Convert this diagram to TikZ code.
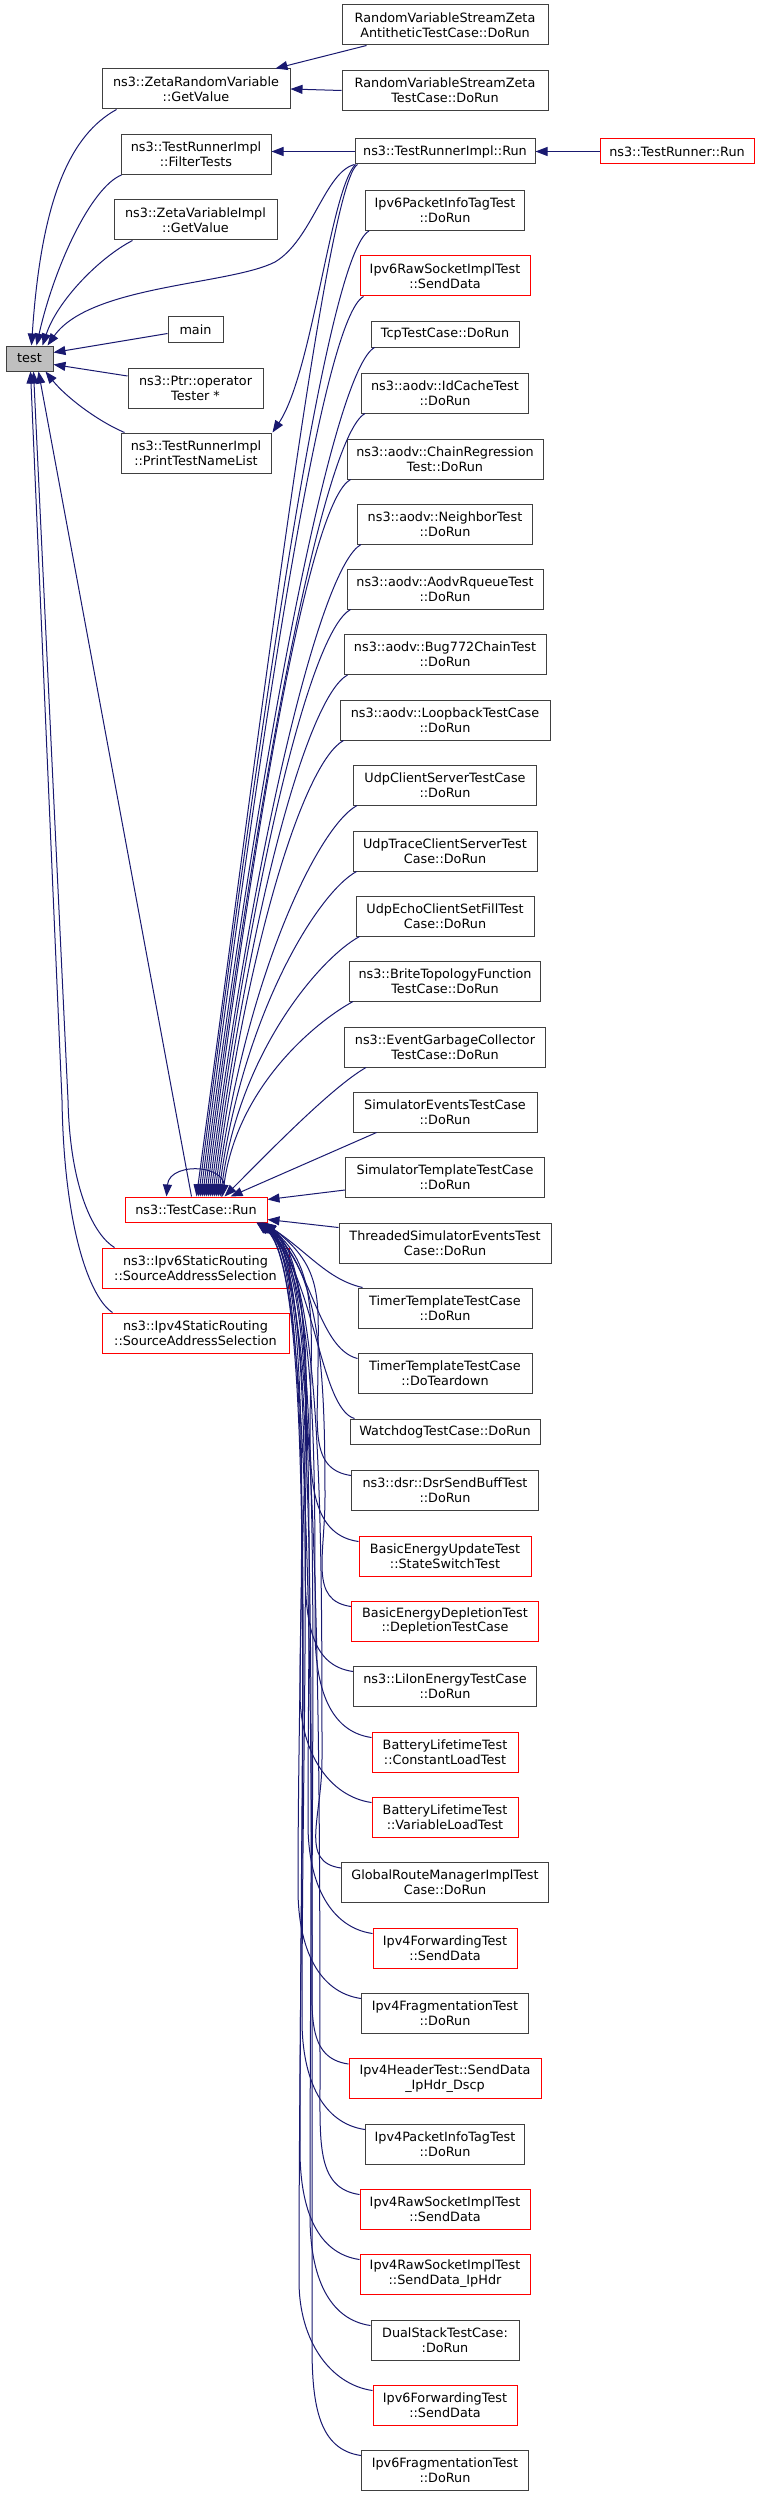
\documentclass[tikz,border=0pt]{standalone}
\usepackage{fontspec}
\newfontfamily\dvs{DejaVu Sans}
\usetikzlibrary{arrows.meta,calc}
\definecolor{navy}{HTML}{191970}
\definecolor{nodegray}{HTML}{404040}
\definecolor{testfill}{HTML}{BFBFBF}
\definecolor{nred}{HTML}{FF0000}
\begin{document}
\begin{tikzpicture}[x=1pt,y=-1pt,
  box/.style={draw=nodegray, line width=1pt, fill=white, rectangle, inner sep=0pt,
    align=center, font=\dvs\fontsize{12.8}{14.8}\selectfont, minimum height=40pt},
  redbox/.style={box, draw=nred},
  one/.style={minimum height=25pt},
  cl/.style={draw=navy, line width=1pt, -{Triangle[length=12pt,width=9pt]}}]
\fill[white] (0,0) rectangle (760,2496);
\useasboundingbox (0,0) rectangle (760,2496);

% left column
\node[box, one, fill=testfill, minimum width=47pt] (test) at (29.5,358.5) {test};
\node[box, minimum width=188pt] (zrv) at (196,89) {ns3::ZetaRandomVariable\\::GetValue};
\node[box, minimum width=150pt] (filt) at (196,154.5) {ns3::TestRunnerImpl\\::FilterTests};
\node[box, minimum width=163pt] (zvi) at (195.5,220) {ns3::ZetaVariableImpl\\::GetValue};
\node[box, one, minimum width=55pt] (main) at (195.5,329.5) {main};
\node[box, minimum width=135pt] (ptr) at (195.5,388) {ns3::Ptr::operator\\Tester *};
\node[box, minimum width=150pt] (ptnl) at (196,453) {ns3::TestRunnerImpl\\::PrintTestNameList};
\node[redbox, one, minimum width=142pt] (tcr) at (196,1209.5) {ns3::TestCase::Run};
\node[redbox, minimum width=187pt] (s6) at (195.5,1268) {ns3::Ipv6StaticRouting\\::SourceAddressSelection};
\node[redbox, minimum width=187pt] (s4) at (195.5,1333) {ns3::Ipv4StaticRouting\\::SourceAddressSelection};

% right column
\node[box, minimum width=206pt] (anti) at (445,25) {RandomVariableStreamZeta\\AntitheticTestCase::DoRun};
\node[box, minimum width=206pt] (rvsz) at (445,90.5) {RandomVariableStreamZeta\\TestCase::DoRun};
\node[box, one, minimum width=180pt] (tri) at (445,151.5) {ns3::TestRunnerImpl::Run};
\node[redbox, one, minimum width=154pt] (trun) at (677,151.5) {ns3::TestRunner::Run};
\node[box, minimum width=159pt] (r1) at (445,210.5) {Ipv6PacketInfoTagTest\\::DoRun};
\node[redbox, minimum width=170pt] (r2) at (445,276) {Ipv6RawSocketImplTest\\::SendData};
\node[box, one, minimum width=148pt] (r3) at (445,334.5) {TcpTestCase::DoRun};
\node[box, minimum width=167pt] (r4) at (445,393) {ns3::aodv::IdCacheTest\\::DoRun};
\node[box, minimum width=196pt] (r5) at (445,459) {ns3::aodv::ChainRegression\\Test::DoRun};
\node[box, minimum width=175pt] (r6) at (445,524) {ns3::aodv::NeighborTest\\::DoRun};
\node[box, minimum width=196pt] (r7) at (445,589) {ns3::aodv::AodvRqueueTest\\::DoRun};
\node[box, minimum width=202pt] (r8) at (445,654.5) {ns3::aodv::Bug772ChainTest\\::DoRun};
\node[box, minimum width=210pt] (r9) at (445,720) {ns3::aodv::LoopbackTestCase\\::DoRun};
\node[box, minimum width=183pt] (r10) at (445,785) {UdpClientServerTestCase\\::DoRun};
\node[box, minimum width=184pt] (r11) at (445,851) {UdpTraceClientServerTest\\Case::DoRun};
\node[box, minimum width=178pt] (r12) at (445,916) {UdpEchoClientSetFillTest\\Case::DoRun};
\node[box, minimum width=191pt] (r13) at (445,981) {ns3::BriteTopologyFunction\\TestCase::DoRun};
\node[box, minimum width=201pt] (r14) at (445,1047) {ns3::EventGarbageCollector\\TestCase::DoRun};
\node[box, minimum width=184pt] (r15) at (445,1112) {SimulatorEventsTestCase\\::DoRun};
\node[box, minimum width=199pt] (r16) at (445,1177) {SimulatorTemplateTestCase\\::DoRun};
\node[box, minimum width=212pt] (r17) at (445,1243) {ThreadedSimulatorEventsTest\\Case::DoRun};
\node[box, minimum width=174pt] (r18) at (445,1308) {TimerTemplateTestCase\\::DoRun};
\node[box, minimum width=174pt] (r19) at (445,1373) {TimerTemplateTestCase\\::DoTeardown};
\node[box, one, minimum width=190pt] (r20) at (445,1431.5) {WatchdogTestCase::DoRun};
\node[box, minimum width=187pt] (r21) at (445,1490) {ns3::dsr::DsrSendBuffTest\\::DoRun};
\node[redbox, minimum width=172pt] (r22) at (445,1556) {BasicEnergyUpdateTest\\::StateSwitchTest};
\node[redbox, minimum width=187pt] (r23) at (445,1621) {BasicEnergyDepletionTest\\::DepletionTestCase};
\node[box, minimum width=183pt] (r24) at (445,1686) {ns3::LiIonEnergyTestCase\\::DoRun};
\node[redbox, minimum width=146pt] (r25) at (445,1752) {BatteryLifetimeTest\\::ConstantLoadTest};
\node[redbox, minimum width=146pt] (r26) at (445,1817) {BatteryLifetimeTest\\::VariableLoadTest};
\node[box, minimum width=207pt] (r27) at (445,1882.5) {GlobalRouteManagerImplTest\\Case::DoRun};
\node[redbox, minimum width=144pt] (r28) at (445,1948) {Ipv4ForwardingTest\\::SendData};
\node[box, minimum width=167pt] (r29) at (445,2013) {Ipv4FragmentationTest\\::DoRun};
\node[redbox, minimum width=192pt] (r30) at (445,2078.5) {Ipv4HeaderTest::SendData\\\_IpHdr\_Dscp};
\node[box, minimum width=159pt] (r31) at (445,2144) {Ipv4PacketInfoTagTest\\::DoRun};
\node[redbox, minimum width=170pt] (r32) at (445,2209) {Ipv4RawSocketImplTest\\::SendData};
\node[redbox, minimum width=170pt] (r33) at (445,2274) {Ipv4RawSocketImplTest\\::SendData\_IpHdr};
\node[box, minimum width=148pt] (r34) at (445,2340) {DualStackTestCase:\\:DoRun};
\node[redbox, minimum width=144pt] (r35) at (445,2405) {Ipv6ForwardingTest\\::SendData};
\node[box, minimum width=167pt] (r36) at (445,2470) {Ipv6FragmentationTest\\::DoRun};

% edges among upper nodes
\draw[cl] ($(anti.south west)+(25,0)$) -- ($(zrv.north east)+(-15,0)$);
\draw[cl] (rvsz.west) -- (zrv.east);
\draw[cl] (trun.west) -- (tri.east);
\draw[cl] (tri.west) -- (filt.east |- tri.west);

% edges into test
\draw[cl] ($(zrv.south west)+(15,0)$) .. controls +(-45,25) and +(10,-150) .. ($(test.north west)+(26,0)$);
\draw[cl] ($(filt.south west)+(1,0)$) .. controls +(-30,12) and +(18,-80) .. ($(test.north west)+(31,0)$);
\draw[cl] ($(zvi.south west)+(19,0)$) .. controls +(-33,17) and +(15,-45) .. ($(test.north west)+(37,0)$);
\draw[cl] (tri.south west) .. controls (325,172) and (312,240) .. (275,262)
  .. controls (230,285) and (90,285) .. ($(test.north west)+(42,0)$);
\draw[cl] ($(main.west)+(0,4)$) -- ($(test.east)+(0,-6)$);
\draw[cl] ($(ptr.west)+(0,-12)$) -- ($(test.east)+(0,6)$);
\draw[cl] ($(ptnl.north west)+(4,0)$) .. controls +(-28,-12) and +(20,25) .. ($(test.south west)+(40,0)$);
\draw[cl] ($(tcr.north west)+(67,0)$) -- ($(test.south west)+(33,0)$);
\draw[cl] ($(s6.north west)+(13,0)$) .. controls +(-20,-12) and +(2,90) .. (68,1100) -- ($(test.south west)+(28,0)$);
\draw[cl] ($(s4.north west)+(11,0)$) .. controls +(-22,-14) and +(2,130) .. (62,1100) -- ($(test.south west)+(25,0)$);

% TestRunnerImpl::Run to others
\draw[cl] ($(tri.south west)+(1,0)$) .. controls +(-25,25) and +(40,-60) .. ($(ptnl.north east)+(1,0)$);
\draw[cl] ($(tri.south west)+(3,0)$) .. controls +(-30,18) and +(70,-520) .. ($(tcr.north west)+(72,0)$);

% upper DoRun nodes into TestCase::Run (top)
\foreach \nd/\yy/\off in {r1/230/74, r2/296/76, r3/347/78, r4/413/80, r5/479/82, r6/544/84,
   r7/609/86, r8/674/88, r9/740/90, r10/805/92, r11/871/94, r12/936/96, r13/1001/98}{
  \pgfmathsetmacro\bb{0.55*(1197-\yy)}
  \pgfmathsetmacro\aa{0.13*\bb}
  \draw[cl] ($(\nd.south west)+(4,0)$) .. controls +(-40,22) and +(\aa,-\bb) .. ($(tcr.north west)+(\off,0)$);
}
\draw[cl] ($(r14.south west)+(22,0)$) .. controls +(-35,20) and +(40,-40) .. ($(tcr.north west)+(100,0)$);
\draw[cl] ($(r15.south west)+(24,0)$) -- ($(tcr.north west)+(106,0)$);
\draw[cl] ($(r16.west)+(0,13)$) -- ($(tcr.east)+(0,-10)$);
\draw[cl] ($(r17.north west)+(0,5)$) -- ($(tcr.east)+(0,10)$);

% self loop
\draw[cl] ($(tcr.north west)+(97,0)$) .. controls +(18,-32) and +(3,-37) .. ($(tcr.north west)+(42,0)$);

% lower DoRun nodes into TestCase::Run (bottom right)
\draw[cl] ($(r18.north west)+(5,0)$) .. controls +(-35,-8) and +(45,30) .. ($(tcr.south east)+(-4,0)$);
\draw[cl] ($(r19.north west)+(0,6)$) .. controls +(-40,-10) and +(50,40) .. ($(tcr.south east)+(-6,0)$);
\draw[cl] ($(r20.north west)+(5,0)$) .. controls +(-35,-10) and +(55,50) .. ($(tcr.south east)+(-8,0)$);
\foreach \nd/\mx/\my/\off in {r21/318/1366/3, r22/310/1432/5, r23/325/1497/7, r24/305/1562/9,
   r25/315/1628/11, r26/300/1693/4, r27/322/1759/6, r28/308/1824/8, r29/298/1889/10,
   r30/312/1955/5, r31/302/2020/7, r32/320/2085/9, r33/300/2150/11, r34/310/2216/6,
   r35/299/2281/8, r36/312/2346/10}{
  \pgfmathsetmacro\kk{0.45*(\my-1222)}
  \draw[cl] ($(\nd.north west)+(0,6)$) .. controls +(-42,-6) and +(0,60) .. (\mx,\my)
     .. controls +(0,-\kk) and +(60,45) .. ($(tcr.south east)+(-\off,0)$);
}
\end{tikzpicture}
\end{document}
